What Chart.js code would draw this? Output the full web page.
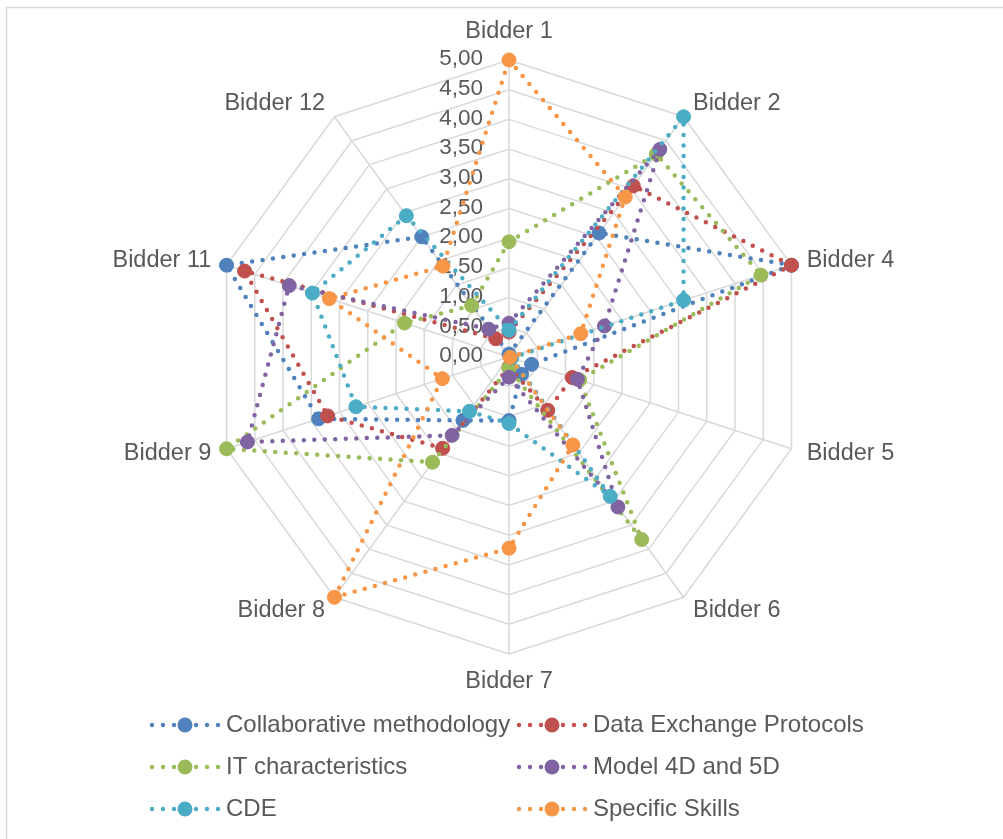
<!DOCTYPE html>
<html>
<head>
<meta charset="utf-8">
<title>Bidder assessment radar</title>
<script src="https://cdn.jsdelivr.net/npm/chart.js@4/dist/chart.umd.min.js"></script>
<style>
  html, body { margin: 0; padding: 0; background: #ffffff; }
  #wrap { position: relative; width: 1003px; height: 839px; }
  canvas { display: block; }
</style>
</head>
<body>
<div id="wrap"><canvas id="radar" width="1003" height="839"></canvas></div>
<script>
// Categories around the radar
const bidders = ['Bidder 1', 'Bidder 2', 'Bidder 4', 'Bidder 5', 'Bidder 6',
                 'Bidder 7', 'Bidder 8', 'Bidder 9', 'Bidder 11', 'Bidder 12'];

// Scores per criterion (0 - 5)
const collaborativeMethodology = [0.05, 2.58, 5.00, 0.40, 0.36, 1.07, 1.32, 3.37, 5.00, 2.50];
const dataExchangeProtocols    = [0.42, 3.56, 5.00, 1.12, 1.11, 0.17, 1.90, 3.21, 4.68, 0.38];
const itCharacteristics        = [1.94, 4.22, 4.46, 1.25, 3.80, 0.19, 2.19, 5.00, 1.85, 1.07];
const model4D5D                = [0.57, 4.32, 1.69, 1.21, 3.12, 0.34, 1.63, 4.63, 3.89, 0.58];
const cde                      = [0.45, 5.00, 3.09, 0.05, 2.90, 1.12, 1.13, 2.71, 3.48, 2.94];
const specificSkills           = [5.00, 3.33, 1.27, 0.02, 1.83, 3.22, 5.00, 1.18, 3.18, 1.89];

// Radial axis range
const scaleMin = 0;
const scaleMax = 5;
const scaleStep = 0.5;

const seriesNames  = ['Collaborative methodology', 'Data Exchange Protocols', 'IT characteristics',
                      'Model 4D and 5D', 'CDE', 'Specific Skills'];
const seriesValues = [collaborativeMethodology, dataExchangeProtocols, itCharacteristics,
                      model4D5D, cde, specificSkills];
const seriesColors = ['#4f81bd', '#c0504d', '#9bbb59', '#8064a2', '#4bacc6', '#f79646'];

const FONT = "'Liberation Sans', Arial, Helvetica, sans-serif";
const TEXT = '#595959';
const GRID = '#d9d9d9';

const fmt = v => Number(v).toFixed(2).replace('.', ',');

const datasets = seriesNames.map((name, i) => ({
  label: name,
  data: seriesValues[i],
  borderColor: seriesColors[i],
  backgroundColor: seriesColors[i],
  pointBackgroundColor: seriesColors[i],
  pointBorderColor: seriesColors[i],
  pointRadius: 7,
  pointBorderWidth: 1,
  pointHoverRadius: 7,
  borderWidth: 4.5,
  borderDash: [0, 10.5],
  borderCapStyle: 'round',
  borderJoinStyle: 'round',
  fill: false,
  tension: 0,
  order: seriesNames.length - i   // later series sit on top
}));

// White page with the thin frame along the top and left edges
const frame = {
  id: 'frame',
  beforeDraw(chart) {
    const ctx = chart.ctx;
    ctx.save();
    ctx.fillStyle = '#ffffff';
    ctx.fillRect(0, 0, chart.width, chart.height);
    ctx.strokeStyle = GRID;
    ctx.lineWidth = 1.5;
    ctx.beginPath();
    ctx.moveTo(6.5, chart.height);
    ctx.lineTo(6.5, 7.5);
    ctx.lineTo(chart.width, 7.5);
    ctx.stroke();
    ctx.restore();
  }
};

// Value labels placed left of the vertical axis, under the series
const tickText = {
  id: 'tickText',
  beforeDatasetsDraw(chart) {
    const s = chart.scales.r;
    const ctx = chart.ctx;
    ctx.save();
    ctx.font = '22.5px ' + FONT;
    ctx.fillStyle = TEXT;
    ctx.textAlign = 'right';
    ctx.textBaseline = 'middle';
    s.ticks.forEach(t => {
      const d = s.getDistanceFromCenterForValue(t.value);
      ctx.fillText(t.label, s.xCenter - 26, s.yCenter - d - 1);
    });
    ctx.restore();
  }
};

// Category names around the outer ring
const categoryText = {
  id: 'categoryText',
  afterDraw(chart) {
    const s = chart.scales.r;
    const ctx = chart.ctx;
    ctx.save();
    ctx.font = '23.5px ' + FONT;
    ctx.fillStyle = TEXT;
    ctx.textBaseline = 'middle';
    chart.data.labels.forEach((lab, i) => {
      const probe = s.getPointPosition(i, s.drawingArea);
      const dx = probe.x - s.xCenter;
      const centred = Math.abs(dx) < 1;
      const p = s.getPointPosition(i, s.drawingArea + (centred ? 28 : 16));
      ctx.textAlign = centred ? 'center' : (dx > 0 ? 'left' : 'right');
      ctx.fillText(lab, p.x, p.y);
    });
    ctx.restore();
  }
};

// Two-column legend below the plot
const legendGrid = {
  id: 'legendGrid',
  afterDraw(chart) {
    const ctx = chart.ctx;
    const colX = [185, 552];
    const rowY = [725, 767, 809];
    ctx.save();
    ctx.font = '24px ' + FONT;
    ctx.textBaseline = 'middle';
    ctx.textAlign = 'left';
    chart.data.datasets.forEach((ds, i) => {
      const cx = colX[i % 2];
      const cy = rowY[Math.floor(i / 2)];
      ctx.fillStyle = ds.borderColor;
      [-33, -22, -11, 11, 22, 33].forEach(o => {
        ctx.beginPath();
        ctx.arc(cx + o, cy, 2.2, 0, Math.PI * 2);
        ctx.fill();
      });
      ctx.beginPath();
      ctx.arc(cx, cy, 7.5, 0, Math.PI * 2);
      ctx.fill();
      ctx.fillStyle = TEXT;
      ctx.fillText(ds.label, cx + 41, cy);
    });
    ctx.restore();
  }
};

new Chart(document.getElementById('radar'), {
  type: 'radar',
  data: { labels: bidders, datasets },
  options: {
    responsive: false,
    animation: false,
    devicePixelRatio: 1,
    layout: { padding: { left: 212, right: 197, top: 60, bottom: 185 } },
    plugins: {
      legend: { display: false },
      tooltip: { enabled: false },
      title: { display: false }
    },
    elements: { line: { tension: 0 } },
    scales: {
      r: {
        min: scaleMin,
        max: scaleMax,
        beginAtZero: true,
        ticks: {
          stepSize: scaleStep,
          display: false,
          callback: v => fmt(v)
        },
        pointLabels: { display: false },
        grid: { color: GRID, lineWidth: 1.5 },
        angleLines: { color: GRID, lineWidth: 1.5 }
      }
    }
  },
  plugins: [frame, tickText, categoryText, legendGrid]
});
</script>
</body>
</html>
